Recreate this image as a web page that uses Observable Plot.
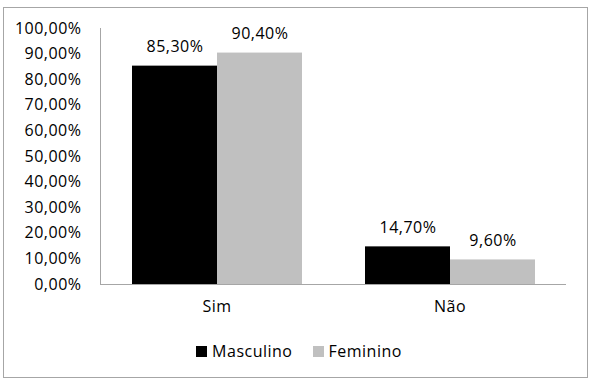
<!DOCTYPE html>
<html><head><meta charset="utf-8">
<script src="https://cdn.jsdelivr.net/npm/d3@7"></script>
<script src="https://cdn.jsdelivr.net/npm/@observablehq/plot@0.6"></script>
<style>
body{margin:0;background:#fff;font-family:"Open Sans",sans-serif;color:#000;}
#wrap{position:relative;width:600px;height:380px;overflow:hidden;}
#border{position:absolute;left:3px;top:7px;width:585px;height:371px;border:1px solid #a6a6a6;box-sizing:border-box;}
#chart{position:absolute;left:0;top:0;}
#chart svg text{letter-spacing:0.5px;}
#legend{position:absolute;left:0;top:340px;width:598px;display:flex;justify-content:center;align-items:center;font-size:16px;letter-spacing:0.5px;}
.item{display:flex;align-items:center;margin:0 10px;}
.sw{width:11px;height:11px;margin-right:5px;}
</style></head>
<body>
<div id="wrap"><div id="border"></div><div id="chart"></div><div id="legend"></div></div>
<script>
const categories = ["Sim", "Não"];
const series = ["Masculino", "Feminino"];
const masculino = [85.3, 14.7];
const feminino = [90.4, 9.6];
const yTicks = [0,10,20,30,40,50,60,70,80,90,100];
const colors = ["#000000", "#c0c0c0"];

const data = [];
categories.forEach((c, i) => {
  data.push({cat: c, sex: series[0], value: masculino[i]});
  data.push({cat: c, sex: series[1], value: feminino[i]});
});
const fmt = v => d3.format(".2f")(v).replace(".", ",") + "%";

const chart = Plot.plot({
  width: 600, height: 380,
  marginLeft: 100, marginRight: 34, marginTop: 28, marginBottom: 96,
  style: {fontFamily: "'Open Sans', sans-serif", fontSize: "16px", color: "#000", background: "transparent"},
  fx: {domain: categories, padding: 0, label: null},
  x: {domain: series, paddingInner: 0, paddingOuter: 0.37, axis: null},
  y: {domain: [0, 100], label: null},
  color: {domain: series, range: colors},
  marks: [
    Plot.axisY({ticks: yTicks, tickSize: 0, tickPadding: 19, tickFormat: fmt, label: null, fontSize: 16}),
    Plot.axisFx({anchor: "bottom", tickSize: 0, tickPadding: 16, label: null, fontSize: 16}),
    Plot.frame({anchor: "left", facetAnchor: "left", stroke: "#a6a6a6"}),
    Plot.barY(data, {fx: "cat", x: "sex", y: "value", fill: "sex"}),
    Plot.ruleY([0], {stroke: "#a6a6a6"}),
    Plot.text(data, {fx: "cat", x: "sex", y: "value", text: d => fmt(d.value), dy: -19, fontSize: 16, fill: "#000"})
  ]
});
document.getElementById("chart").appendChild(chart);

const leg = d3.select("#legend");
series.forEach((s, i) => {
  const it = leg.append("div").attr("class", "item");
  it.append("div").attr("class", "sw").style("background", colors[i]);
  it.append("span").text(s);
});
</script>
</body></html>
